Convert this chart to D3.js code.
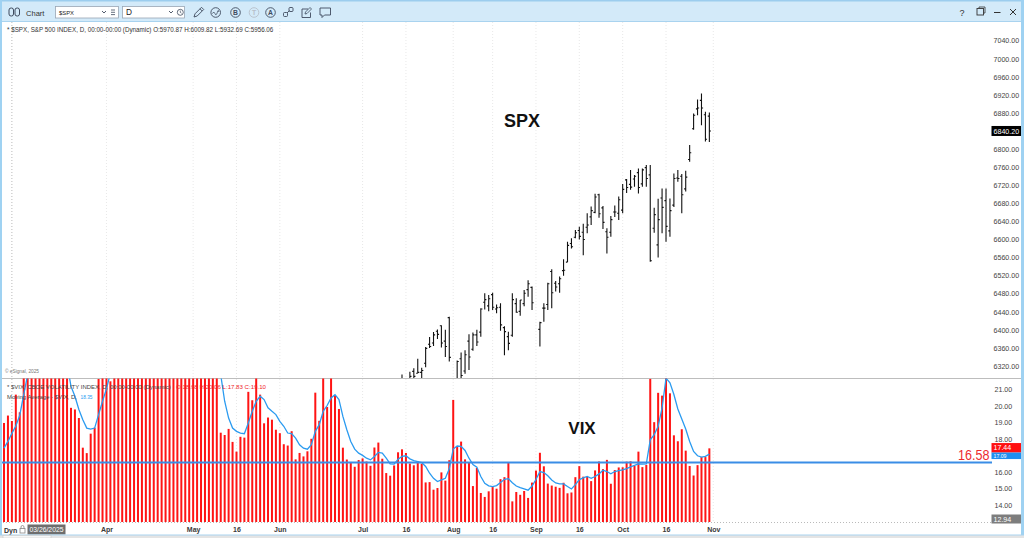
<!DOCTYPE html>
<html><head><meta charset="utf-8">
<script src="https://cdn.jsdelivr.net/npm/d3@7"></script>
<style>
html,body{margin:0;padding:0;background:#fff;overflow:hidden}
svg{display:block;font-family:"Liberation Sans",Arial,sans-serif}
</style></head><body>
<svg id="chart" width="1024" height="538"></svg>
<script>
// ---- categories: every weekday session of 2025 shown on the chart (MM-DD) ----
const dates = [
"02-24","02-25","02-26","02-27","02-28",
"03-03","03-04","03-05","03-06","03-07","03-10","03-11","03-12","03-13","03-14","03-17","03-18","03-19","03-20","03-21","03-24","03-25","03-26","03-27","03-28","03-31",
"04-01","04-02","04-03","04-04","04-07","04-08","04-09","04-10","04-11","04-14","04-15","04-16","04-17","04-18","04-21","04-22","04-23","04-24","04-25","04-28","04-29","04-30",
"05-01","05-02","05-05","05-06","05-07","05-08","05-09","05-12","05-13","05-14","05-15","05-16","05-19","05-20","05-21","05-22","05-23","05-26","05-27","05-28","05-29","05-30",
"06-02","06-03","06-04","06-05","06-06","06-09","06-10","06-11","06-12","06-13","06-16","06-17","06-18","06-19","06-20","06-23","06-24","06-25","06-26","06-27","06-30",
"07-01","07-02","07-03","07-04","07-07","07-08","07-09","07-10","07-11","07-14","07-15","07-16","07-17","07-18","07-21","07-22","07-23","07-24","07-25","07-28","07-29","07-30","07-31",
"08-01","08-04","08-05","08-06","08-07","08-08","08-11","08-12","08-13","08-14","08-15","08-18","08-19","08-20","08-21","08-22","08-25","08-26","08-27","08-28","08-29",
"09-01","09-02","09-03","09-04","09-05","09-08","09-09","09-10","09-11","09-12","09-15","09-16","09-17","09-18","09-19","09-22","09-23","09-24","09-25","09-26","09-29","09-30",
"10-01","10-02","10-03","10-06","10-07","10-08","10-09","10-10","10-13","10-14","10-15","10-16","10-17","10-20","10-21","10-22","10-23","10-24","10-27","10-28","10-29","10-30","10-31"];

// ---- VIX daily close ----
const vix = [
18.98,19.43,19.10,20.70,19.63,
22.78,23.51,21.93,24.87,23.37,27.86,26.92,24.23,24.66,21.77,21.90,21.70,19.90,19.80,19.28,17.48,17.15,18.33,18.69,21.65,22.28,
21.77,21.51,30.02,45.31,46.98,52.33,33.62,40.72,37.56,30.89,30.12,32.64,29.65,29.60,33.82,30.57,28.45,26.47,24.84,25.15,24.17,24.70,
24.60,22.68,23.64,24.76,23.55,22.48,21.90,18.39,18.25,18.62,17.83,17.24,18.14,18.09,20.87,20.36,22.29,20.70,18.96,19.31,19.18,18.57,
18.36,17.69,17.61,18.48,16.77,17.16,16.95,17.26,18.02,20.82,19.11,21.72,19.95,21.80,20.62,19.83,17.48,16.76,16.59,16.32,16.73,
16.83,16.64,16.38,17.49,17.79,16.81,15.94,15.78,16.40,17.20,17.38,17.16,16.52,16.41,16.65,16.50,15.37,15.39,14.93,15.03,15.98,15.48,16.72,
20.38,17.52,17.85,16.77,16.57,15.15,16.25,14.73,14.49,14.83,15.09,14.99,15.57,15.69,16.60,14.22,14.79,14.62,14.85,14.43,15.36,
16.09,17.17,16.35,15.30,15.18,15.11,15.04,15.35,14.71,14.76,15.69,16.36,15.72,15.70,15.45,16.10,16.64,16.18,16.74,15.29,16.12,16.28,
16.29,16.63,16.65,16.37,17.24,16.30,16.43,21.66,19.03,20.81,20.64,25.31,20.78,18.23,17.87,18.60,17.30,16.37,15.79,16.42,16.92,16.91,17.44];

// ---- Moving Average of VIX (as plotted) ----
const vixMA = [
17.45,17.86,18.35,18.80,19.45,
20.70,21.90,22.40,22.80,23.30,24.30,25.30,25.20,25.50,25.10,23.60,22.60,21.20,20.60,19.80,19.18,18.67,18.61,18.67,19.49,20.30,
21.05,22.00,23.50,28.20,33.10,39.20,41.60,43.80,42.20,39.80,34.60,34.30,32.20,31.50,31.60,31.00,30.00,29.50,28.70,27.10,25.80,25.10,
24.70,24.30,24.00,24.10,23.90,23.60,23.00,21.90,20.30,19.28,18.67,18.47,18.37,18.33,18.98,19.69,20.30,20.60,20.40,19.90,19.69,19.49,
19.08,18.78,18.37,18.33,18.06,17.66,17.45,17.39,17.66,18.47,18.88,19.69,20.04,20.50,20.70,20.40,19.38,18.57,17.86,17.39,17.15,
17.01,16.84,16.74,16.95,17.19,17.15,16.84,16.50,16.48,16.78,16.95,16.99,16.80,16.70,16.64,16.58,16.34,15.93,15.62,15.42,15.52,15.62,16.20,
17.40,17.58,17.56,17.31,16.84,16.46,16.30,15.73,15.32,15.16,15.12,15.18,15.36,15.56,15.60,15.35,15.15,15.05,14.98,14.90,15.15,
15.55,16.03,15.97,15.77,15.52,15.34,15.28,15.28,15.12,14.97,15.24,15.54,15.65,15.73,15.62,15.73,15.89,16.11,16.03,15.89,16.03,16.09,
16.13,16.21,16.32,16.40,16.50,16.48,16.50,17.96,18.27,18.78,19.89,21.70,21.42,20.71,19.83,19.22,18.61,17.86,17.25,16.99,16.91,16.95,17.09];

// ---- SPX daily OHLC (sessions whose bars reach the visible price range) ----
const spxDates = [
"07-15","07-16","07-17","07-18","07-21","07-22","07-23","07-24","07-25","07-28","07-29","07-30","07-31",
"08-01","08-04","08-05","08-06","08-07","08-08","08-11","08-12","08-13","08-14","08-15","08-18","08-19","08-20","08-21","08-22","08-25","08-26","08-27","08-28","08-29",
"09-02","09-03","09-04","09-05","09-08","09-09","09-10","09-11","09-12","09-15","09-16","09-17","09-18","09-19","09-22","09-23","09-24","09-25","09-26","09-29","09-30",
"10-01","10-02","10-03","10-06","10-07","10-08","10-09","10-10","10-13","10-14","10-15","10-16","10-17","10-20","10-21","10-22","10-23","10-24","10-27","10-28","10-29","10-30","10-31"];
const spxOpen = [
6285,6250,6270,6308,6304,6306,6326,6368,6371,6397,6409,6375,6427,
6287,6271,6336,6309,6375,6357,6389,6395,6461,6453,6478,6446,6450,6405,6385,6388,6458,6441,6458,6489,6494,
6401,6448,6456,6529,6503,6502,6531,6550,6591,6605,6620,6616,6627,6650,6660,6699,6670,6617,6616,6661,6658,
6665,6732,6722,6734,6748,6723,6759,6743,6625,6588,6692,6686,6619,6676,6736,6740,6712,6777,6845,6889,6908,6876,6873];
const spxHigh = [
6301,6268,6307,6315,6336,6316,6362,6384,6395,6401,6410,6400,6429,
6288,6332,6350,6355,6390,6394,6400,6448,6481,6477,6482,6456,6459,6408,6396,6481,6470,6466,6488,6510,6496,
6418,6459,6504,6534,6508,6518,6556,6595,6603,6621,6628,6635,6658,6673,6701,6701,6674,6625,6652,6675,6695,
6723,6734,6754,6743,6757,6757,6765,6765,6670,6690,6713,6713,6691,6746,6754,6745,6752,6809,6879,6910,6923,6883,6881];
const spxLow = [
6243,6202,6263,6285,6304,6282,6317,6360,6364,6380,6361,6340,6330,
6213,6271,6289,6303,6311,6354,6364,6385,6445,6441,6444,6437,6398,6344,6355,6385,6438,6431,6452,6473,6444,
6363,6418,6444,6448,6485,6482,6520,6550,6580,6603,6600,6565,6614,6632,6658,6648,6623,6569,6606,6650,6643,
6658,6703,6710,6717,6702,6717,6717,6551,6615,6560,6614,6595,6606,6672,6728,6658,6706,6772,6843,6875,6853,6817,6816];
const spxClose = [
6244,6264,6297,6297,6306,6310,6359,6363,6389,6390,6371,6363,6339,
6238,6330,6299,6345,6340,6389,6373,6446,6467,6469,6450,6449,6411,6396,6370,6467,6439,6466,6481,6502,6460,
6416,6448,6502,6482,6495,6513,6532,6587,6584,6615,6607,6600,6632,6664,6694,6657,6638,6605,6644,6661,6688,
6711,6715,6716,6740,6715,6754,6735,6553,6655,6644,6671,6629,6664,6735,6735,6699,6738,6792,6875,6891,6891,6822,6840];

// ---- tick labels ----
const spxTicks = [6320,6360,6400,6440,6480,6520,6560,6600,6640,6680,6720,6760,6800,6840,6880,6920,6960,7000,7040];
const vixTicks = [14,15,16,17,18,19,20,21];
const xTickDates = ["04-01","05-01","05-16","06-02","07-01","07-16","08-01","08-15","09-01","09-16","10-01","10-16","11-03"];
const xTickLabels = ["Apr","May","16","Jun","Jul","16","Aug","16","Sep","16","Oct","16","Nov"];
const levelValue = 16.58;
const spxLast = 6840.20, vixLast = 17.44, maLast = 17.09, cursorValue = 12.94;

// ================= drawing =================
const FONT = "Liberation Sans, Arial, sans-serif";
const W = 1024, H = 538;
const svg = d3.select("#chart");
const idx = new Map(dates.map((d,i)=>[d,i]));
const x = d3.scaleLinear().domain([0, dates.length]).range([4, 713.3]);
const xd = d => x(idx.has(d) ? idx.get(d) : dates.length);
const yS = d3.scaleLinear().domain([6320, 7040]).range([366, 40.7]);
const yV = d3.scaleLinear().domain([14, 21]).range([505, 389.7]);
const PLOT_R = 991, SPX_TOP = 22, SEP = 378, VIX_BOT = 522;

svg.append("rect").attr("width",W).attr("height",H).attr("fill","#fff");
const defs = svg.append("defs");
defs.append("clipPath").attr("id","spxClip").append("rect").attr("x",0).attr("y",SPX_TOP).attr("width",PLOT_R).attr("height",SEP-SPX_TOP);
defs.append("clipPath").attr("id","vixClip").append("rect").attr("x",0).attr("y",SEP+0.5).attr("width",PLOT_R).attr("height",VIX_BOT-SEP-0.5);

// vertical dotted grid (very faint)
const grid = svg.append("g");
xTickDates.forEach(d=>{
  grid.append("line").attr("x1",xd(d)).attr("x2",xd(d)).attr("y1",SPX_TOP).attr("y2",VIX_BOT)
    .attr("stroke","#e2e2e2").attr("stroke-width",0.8).attr("stroke-dasharray","1,2");
});
// crosshair
svg.append("line").attr("x1",x(2)).attr("x2",x(2)).attr("y1",SPX_TOP).attr("y2",VIX_BOT)
  .attr("stroke","#a8a8a8").attr("stroke-width",0.8).attr("stroke-dasharray","1,2");
svg.append("line").attr("x1",0).attr("x2",PLOT_R).attr("y1",VIX_BOT+0.5).attr("y2",VIX_BOT+0.5)
  .attr("stroke","#a8a8a8").attr("stroke-width",0.8).attr("stroke-dasharray","1,2");

// ---- SPX OHLC bars ----
const gS = svg.append("g").attr("clip-path","url(#spxClip)");
gS.selectAll("path.ohlc").data(spxDates).join("path").attr("class","ohlc")
  .attr("d",(d,k)=>{
    const cx = xd(d);
    return `M${cx},${yS(spxHigh[k])}V${yS(spxLow[k])}M${cx-1.6},${yS(spxOpen[k])}H${cx}M${cx},${yS(spxClose[k])}H${cx+1.6}`;
  })
  .attr("fill","none").attr("stroke","#111").attr("stroke-width",1.1);

// panel separator
svg.append("line").attr("x1",0).attr("x2",1021).attr("y1",SEP+0.5).attr("y2",SEP+0.5).attr("stroke","#bdbdbd").attr("stroke-width",1);

// ---- VIX bars + MA ----
const gV = svg.append("g").attr("clip-path","url(#vixClip)");
gV.selectAll("rect.vb").data(vix).join("rect").attr("class","vb")
  .attr("x",(v,i)=>x(i)-1).attr("width",2)
  .attr("y",v=>yV(v)).attr("height",v=>Math.max(0,VIX_BOT-yV(v)))
  .attr("fill","#ff1414");
gV.append("path").datum(vixMA)
  .attr("d", d3.line().x((v,i)=>x(i)).y(v=>yV(v)))
  .attr("fill","none").attr("stroke","#2b9bf0").attr("stroke-width",1.3);

// level line
svg.append("line").attr("x1",0).attr("x2",992).attr("y1",yV(levelValue)).attr("y2",yV(levelValue))
  .attr("stroke","#3a8de6").attr("stroke-width",2.2);
svg.append("text").attr("x",958).attr("y",yV(levelValue)-3).attr("font-family",FONT).attr("font-size",14)
  .attr("fill","#ec2a2f").attr("textLength",31.5).attr("lengthAdjust","spacingAndGlyphs").text(levelValue.toFixed(2));

// ---- big labels ----
svg.append("text").attr("x",522).attr("y",127).attr("text-anchor","middle").attr("font-family",FONT)
  .attr("font-size",18).attr("font-weight","bold").attr("fill","#111").text("SPX");
svg.append("text").attr("x",582).attr("y",433.5).attr("text-anchor","middle").attr("font-family",FONT)
  .attr("font-size",17).attr("font-weight","bold").attr("fill","#111").text("VIX");

// ---- header texts ----
function txt(xp, yp, s, size, fill, len){
  const t = svg.append("text").attr("x",xp).attr("y",yp).attr("font-family",FONT).attr("font-size",size).attr("fill",fill).text(s);
  if(len) t.attr("textLength",len).attr("lengthAdjust","spacingAndGlyphs");
  return t;
}
// text whose font size is fitted so its natural width equals the target width
function fit(xp, yp, s, size, fill, target){
  const t = svg.append("text").attr("x",xp).attr("y",yp).attr("font-family",FONT).attr("font-size",size).attr("fill",fill).text(s);
  const L = t.node().getComputedTextLength();
  if (L > 0) t.attr("font-size", size*target/L);
  return t;
}
fit(7, 31.8, "* $SPX, S&P 500 INDEX, D, 00:00-00:00 (Dynamic) O:5970.87 H:6009.82 L:5932.69 C:5956.06", 7.3, "#333", 267);
fit(7, 389.3, "* $VIX, CBOE VOLATILITY INDEX, D, 00:00-00:00 (Dynamic)", 7.3, "#444", 164);
fit(176, 389.3, "O:18.98 H:20.06 L:17.83 C:19.10", 7.3, "#f0262b", 90);
fit(7, 398.6, "Moving Average - $VIX, D,", 7.3, "#444", 70);
fit(80.5, 398.6, "18.35", 7.3, "#2b9bf0", 12);
fit(5, 372.5, "© eSignal, 2025", 4.6, "#777", 34);

// ---- right axes ----
const axS = d3.axisRight(yS).tickValues(spxTicks).tickFormat(d3.format(".2f")).tickSize(0).tickPadding(0);
svg.append("g").attr("transform","translate(993.5,0)").call(axS)
  .call(g=>g.select(".domain").remove())
  .attr("font-family",FONT).attr("font-size",7.1)
  .call(g=>g.selectAll("text").attr("fill","#444"));
const axV = d3.axisRight(yV).tickValues(vixTicks.filter(v=>v!==17)).tickFormat(d3.format(".2f")).tickSize(0).tickPadding(0);
svg.append("g").attr("transform","translate(994.5,0)").call(axV)
  .call(g=>g.select(".domain").remove())
  .attr("font-family",FONT).attr("font-size",7.1)
  .call(g=>g.selectAll("text").attr("fill","#444"));

// value boxes
function vbox(yc, h, fill, s, fs){
  svg.append("rect").attr("x",991.5).attr("y",yc-h/2).attr("width",30).attr("height",h).attr("fill",fill);
  svg.append("text").attr("x",993.5).attr("y",yc+fs*0.36).attr("font-family",FONT).attr("font-size",fs).attr("fill","#fff").text(s);
}
vbox(yS(spxLast), 10, "#000", spxLast.toFixed(2), 7.1);
vbox(447.8, 9.5, "#ff1010", vixLast.toFixed(2), 7.1);
vbox(455.8, 6.5, "#1f8ff0", maLast.toFixed(2), 5.2);
vbox(519, 9, "#7d7d7d", cursorValue.toFixed(2), 7.1);

// ---- x axis ----
const axX = d3.axisBottom(x).tickValues(xTickDates.map(d=>idx.has(d)?idx.get(d):dates.length))
  .tickFormat((d,i)=>xTickLabels[i]).tickSize(0).tickPadding(0);
svg.append("g").attr("transform","translate(0,527)").call(axX)
  .call(g=>g.select(".domain").remove())
  .attr("font-family",FONT).attr("font-size",7).attr("font-weight","bold")
  .call(g=>g.selectAll("text").attr("fill","#3a3a3a"));

// bottom-left widgets
txt(4, 532.5, "Dyn", 7, "#333").attr("font-weight","bold");
svg.append("rect").attr("x",20).attr("y",528.5).attr("width",5).attr("height",4.5).attr("fill","none").attr("stroke","#888").attr("stroke-width",0.8);
svg.append("path").attr("d","M21,528.5 v-1.5 a1.5,1.5 0 0 1 3,0 v1.5").attr("fill","none").attr("stroke","#888").attr("stroke-width",0.8);
svg.append("rect").attr("x",27.5).attr("y",524.5).attr("width",38).attr("height",10).attr("fill","#6e6e6e");
fit(29.5, 532.3, "03/26/2025", 6.8, "#fff", 34);

// ---- window chrome ----
svg.append("rect").attr("x",0).attr("y",0).attr("width",W).attr("height",21).attr("fill","#d3eaf9");
svg.append("line").attr("x1",0).attr("x2",W).attr("y1",21.5).attr("y2",21.5).attr("stroke","#a9d3ef");
svg.append("rect").attr("x",0).attr("y",0).attr("width",W).attr("height",1.5).attr("fill","#9ccdee");
svg.append("rect").attr("x",0).attr("y",0).attr("width",2).attr("height",H).attr("fill","#9fd2f2");
svg.append("rect").attr("x",1021).attr("y",0).attr("width",3).attr("height",H).attr("fill","#9fd2f2");
svg.append("rect").attr("x",0).attr("y",535).attr("width",W).attr("height",3).attr("fill","#e4e4e4");
svg.append("line").attr("x1",0).attr("x2",W).attr("y1",535).attr("y2",535).attr("stroke","#a9d3ef");
svg.append("rect").attr("x",3).attr("y",535.5).attr("width",48).attr("height",2.5).attr("fill","#f7f7f7").attr("stroke","#c4c4c4").attr("stroke-width",0.5);

const IC = "#3f4b5e";
svg.append("rect").attr("x",9).attr("y",8).attr("width",4.5).attr("height",8).attr("rx",2).attr("fill","none").attr("stroke",IC).attr("stroke-width",1);
svg.append("rect").attr("x",15).attr("y",8).attr("width",4.5).attr("height",8).attr("rx",2).attr("fill","none").attr("stroke",IC).attr("stroke-width",1);
fit(26, 15.5, "Chart", 9.5, "#333", 18.5);
svg.append("rect").attr("x",55.5).attr("y",6.5).attr("width",63).attr("height",11.5).attr("fill","#fff").attr("stroke","#9aa6b4").attr("stroke-width",0.8);
fit(59, 15.3, "$SPX", 8.3, "#222", 15);
svg.append("path").attr("d","M102,11 l2,2 l2,-2").attr("fill","none").attr("stroke",IC).attr("stroke-width",0.9);
svg.append("path").attr("d","M111,10 h4 M111,12.3 h4 M111,14.6 h4").attr("stroke",IC).attr("stroke-width",0.8);
svg.append("rect").attr("x",122.5).attr("y",6.5).attr("width",62).attr("height",11.5).attr("fill","#fff").attr("stroke","#9aa6b4").attr("stroke-width",0.8);
txt(126, 15.3, "D", 8.3, "#222");
svg.append("path").attr("d","M169,11 l2,2 l2,-2").attr("fill","none").attr("stroke",IC).attr("stroke-width",0.9);
svg.append("circle").attr("cx",180.3).attr("cy",12.3).attr("r",3).attr("fill","none").attr("stroke",IC).attr("stroke-width",0.8);
svg.append("path").attr("d","M180.3,10.6 v1.8 l1.2,0.8").attr("fill","none").attr("stroke",IC).attr("stroke-width",0.7);
svg.append("path").attr("d","M194,17 l1,-3.2 l6.5,-6.5 l2.2,2.2 l-6.5,6.5 z M200,8.8 l2.2,2.2").attr("fill","none").attr("stroke",IC).attr("stroke-width",0.9);
svg.append("circle").attr("cx",215.7).attr("cy",12.5).attr("r",4.8).attr("fill","none").attr("stroke",IC).attr("stroke-width",0.9);
svg.append("path").attr("d","M212.5,13.5 q1.2,-3 2.4,0 t2.4,-1 t1.5,-0.5").attr("fill","none").attr("stroke",IC).attr("stroke-width",0.8);
[[235.5,"B",IC],[254,"T","#b8c0ca"],[270.5,"A",IC]].forEach(([cx,l,c])=>{
  svg.append("circle").attr("cx",cx).attr("cy",12.5).attr("r",4.8).attr("fill","none").attr("stroke",c).attr("stroke-width",0.9);
  svg.append("text").attr("x",cx).attr("y",15.2).attr("text-anchor","middle").attr("font-family",FONT).attr("font-size",6.8).attr("font-weight","bold").attr("fill",c).text(l);
});
svg.append("rect").attr("x",283.5).attr("y",12.5).attr("width",4).attr("height",4).attr("rx",1).attr("fill","none").attr("stroke",IC).attr("stroke-width",0.9);
svg.append("rect").attr("x",289).attr("y",7.5).attr("width",4).attr("height",4).attr("rx",1).attr("fill","none").attr("stroke",IC).attr("stroke-width",0.9);
svg.append("path").attr("d","M287,13 l2.5,-2.5").attr("stroke",IC).attr("stroke-width",0.9);
svg.append("path").attr("d","M308,9 h-6 v8.5 h8.5 v-5").attr("fill","none").attr("stroke",IC).attr("stroke-width",0.9);
svg.append("path").attr("d","M305,14 l0.5,-2 l4.5,-4.5 l1.5,1.5 l-4.5,4.5 z").attr("fill","none").attr("stroke",IC).attr("stroke-width",0.8);
svg.append("path").attr("d","M320,8 h10.5 v7 h-6 l-2.5,2.5 v-2.5 h-2 z").attr("fill","none").attr("stroke",IC).attr("stroke-width",0.9);
txt(959.5, 15.5, "?", 9, "#333");
svg.append("rect").attr("x",977).attr("y",8.5).attr("width",6.5).attr("height",6.5).attr("fill","none").attr("stroke","#333").attr("stroke-width",0.9);
svg.append("path").attr("d","M979,8.5 v-1.5 h6 v6 h-1.5").attr("fill","none").attr("stroke","#333").attr("stroke-width",0.8);
svg.append("line").attr("x1",994).attr("x2",1000.5).attr("y1",12.5).attr("y2",12.5).attr("stroke","#333").attr("stroke-width",1);
svg.append("path").attr("d","M1010,9 l6,6 M1016,9 l-6,6").attr("stroke","#333").attr("stroke-width",1);
</script>
</body></html>
